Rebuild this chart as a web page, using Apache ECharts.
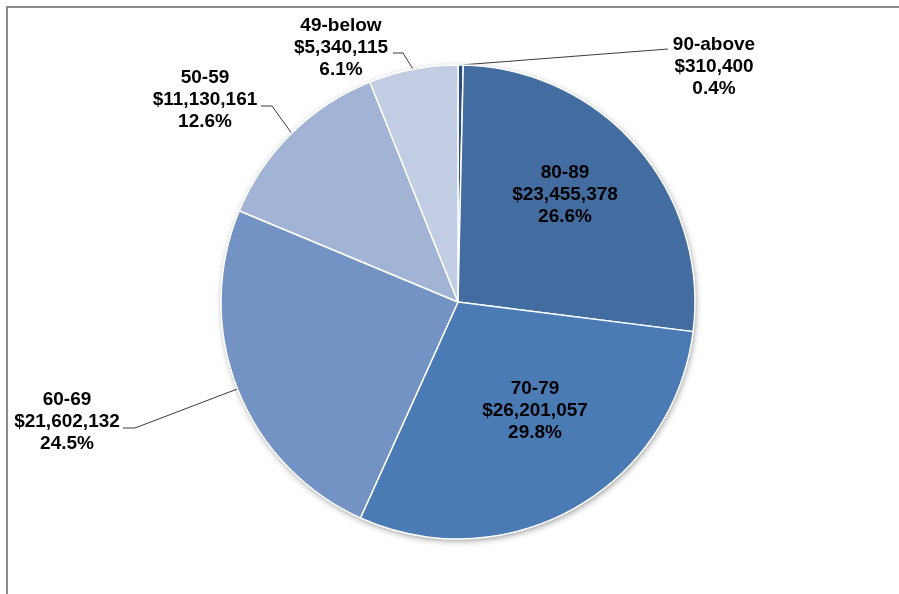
<!DOCTYPE html>
<html>
<head>
<meta charset="utf-8">
<script src="https://cdn.jsdelivr.net/npm/echarts@6/dist/echarts.min.js"></script>
<style>
  html, body { margin: 0; padding: 0; background: #ffffff; }
  #chart { width: 899px; height: 594px; }
</style>
</head>
<body>
<div id="chart"></div>
<script>
// Donation totals by age bracket
const categories = ['90-above', '80-89', '70-79', '60-69', '50-59', '49-below'];
const amounts = [310400, 23455378, 26201057, 21602132, 11130161, 5340115];

// Slice fills, one per bracket
const sliceColors = ['#2d4f7e', '#436ca0', '#4a7bb5', '#7393c5', '#a2b4d5', '#c2cce2'];

// Pie geometry (px)
const CX = 458, CY = 302, R = 237;

// Where each label sits: centre of the label block, plus the leader's
// horizontal tail (end point touching the text, elbow toward the slice)
const labelPlacement = {
  '90-above': { x: 714, y: 67, end: [668, 49], elbow: [668, 49] },
  '80-89':    { x: 565, y: 195 },
  '70-79':    { x: 535, y: 411 },
  '60-69':    { x: 67,  y: 422, end: [123, 428], elbow: [135, 428] },
  '50-59':    { x: 205, y: 100, end: [261, 106], elbow: [272, 106] },
  '49-below': { x: 341, y: 48,  end: [393, 53],  elbow: [403, 53] }
};

const total = amounts.reduce((a, b) => a + b, 0);
const money = v => '$' + v.toLocaleString('en-US');

const seriesData = categories.map((name, i) => {
  const p = labelPlacement[name];
  return {
    name: name,
    value: amounts[i],
    itemStyle: { color: sliceColors[i] },
    labelLine: { show: !!p.end }
  };
});

const chart = echarts.init(document.getElementById('chart'), null, { renderer: 'canvas' });

chart.setOption({
  backgroundColor: '#ffffff',
  animation: false,
  graphic: [
    {
      // outer frame
      type: 'rect',
      z: 0,
      shape: { x: 7, y: 7, width: 1200, height: 1200 },
      style: { fill: 'none', stroke: '#8c8c8c', lineWidth: 2 }
    },
    {
      // soft drop shadow under the pie
      type: 'circle',
      z: 0,
      shape: { cx: CX, cy: CY, r: R - 1 },
      style: {
        fill: '#ffffff',
        shadowBlur: 7,
        shadowOffsetX: 1,
        shadowOffsetY: 2,
        shadowColor: 'rgba(0,0,0,0.5)'
      }
    }
  ],
  series: [{
    type: 'pie',
    z: 2,
    center: [CX, CY],
    radius: [0, R],
    startAngle: 90,
    clockwise: true,
    avoidLabelOverlap: false,
    data: seriesData,
    itemStyle: { borderColor: '#ffffff', borderWidth: 1.5 },
    emphasis: { disabled: true },
    label: {
      show: true,
      position: 'outside',
      fontFamily: '"Liberation Sans", Arial, sans-serif',
      fontWeight: 'bold',
      fontSize: 19,
      lineHeight: 22,
      color: '#000000',
      align: 'center',
      formatter: p => p.name + '\n' + money(p.value) + '\n' + (p.value / total * 100).toFixed(1) + '%'
    },
    labelLine: {
      show: true,
      length: 20,
      length2: 10,
      smooth: false,
      lineStyle: { color: '#3a3a3a', width: 1 }
    },
    labelLayout: function (params) {
      const name = categories[params.dataIndex];
      const p = labelPlacement[name];
      const out = { x: p.x, y: p.y, align: 'center', verticalAlign: 'middle' };
      if (p.end) {
        let start;
        if (params.labelLinePoints && params.labelLinePoints[0]) {
          start = params.labelLinePoints[0];
        } else {
          // fallback: mid-angle point on the rim
          let before = 0;
          for (let i = 0; i < params.dataIndex; i++) before += amounts[i];
          const mid = (before + amounts[params.dataIndex] / 2) / total * Math.PI * 2;
          start = [CX + R * Math.sin(mid), CY - R * Math.cos(mid)];
        }
        out.labelLinePoints = [start, p.elbow, p.end];
      }
      return out;
    }
  }]
});
</script>
</body>
</html>
